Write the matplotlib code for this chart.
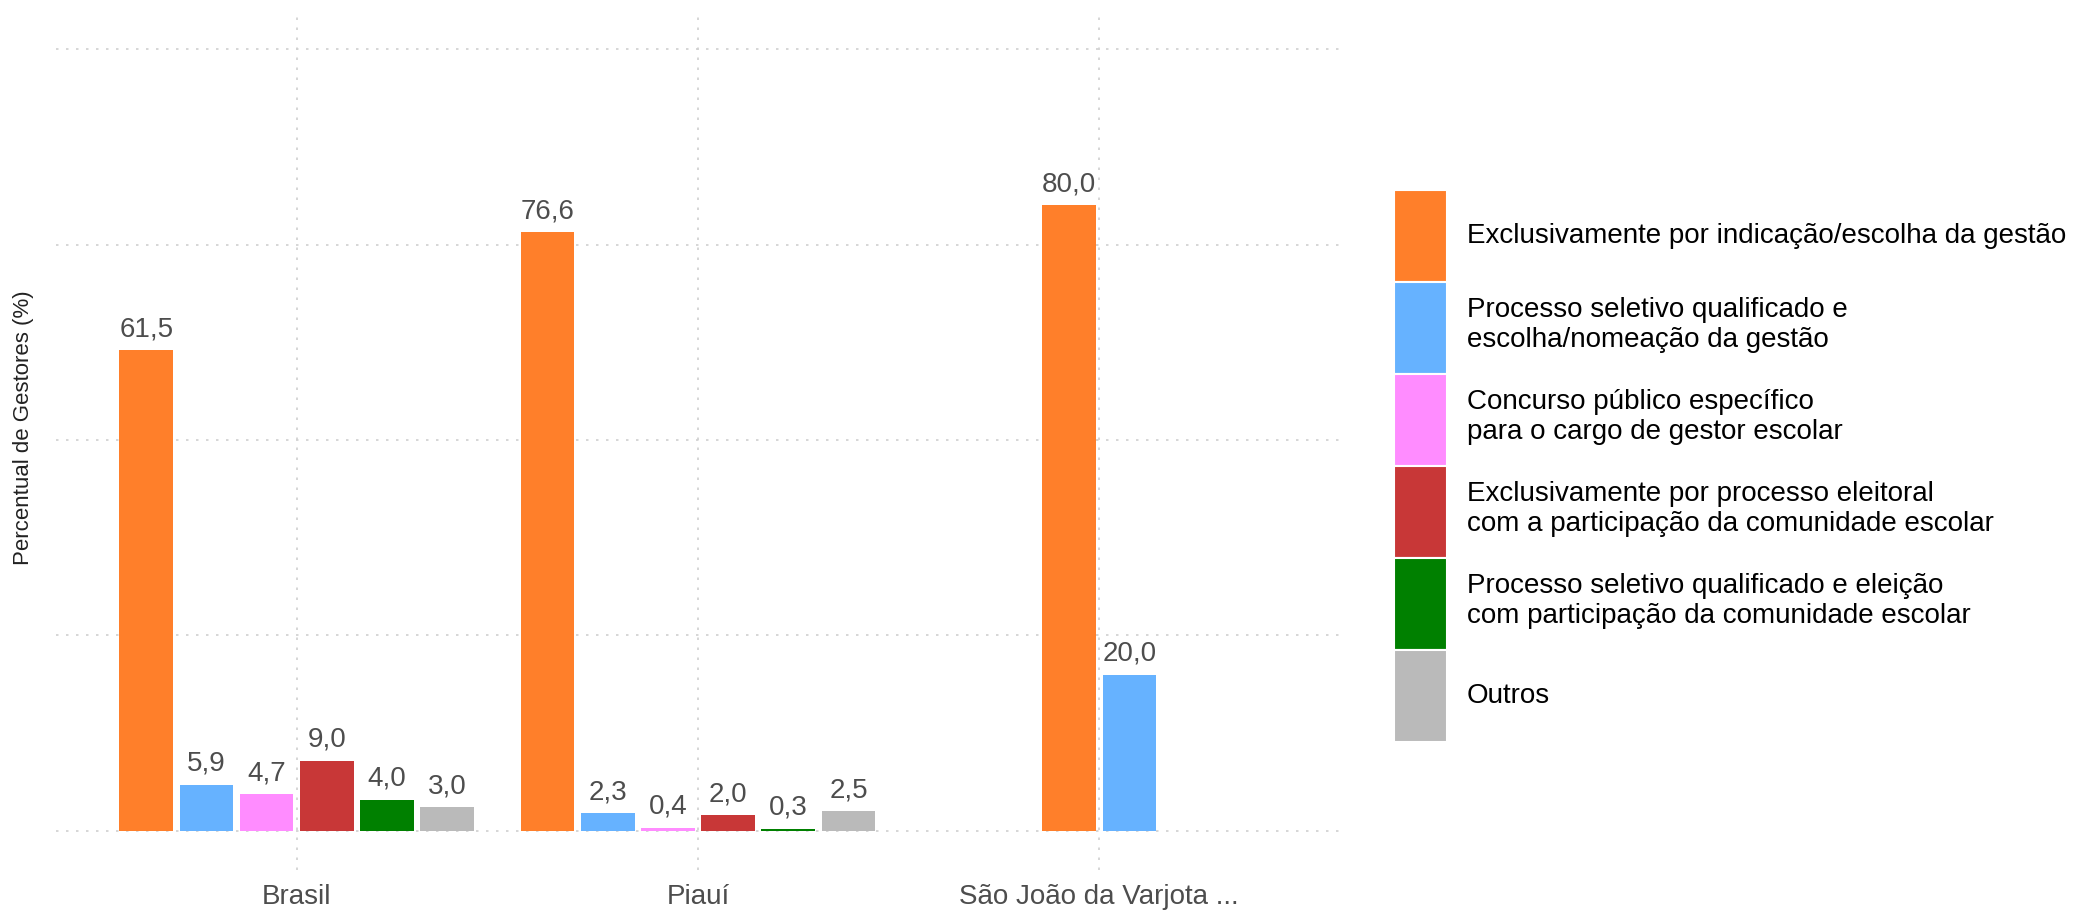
import numpy as np
import matplotlib
matplotlib.use("Agg")
from matplotlib import pyplot as plt
from matplotlib.patches import Patch

plt.rcParams['font.family'] = ['Liberation Sans', 'DejaVu Sans']

# data
regioes = ['Brasil', 'Piauí', 'São João da Varjota ...']
series = [
    'Exclusivamente por indicação/escolha da gestão',
    'Processo seletivo qualificado e\nescolha/nomeação da gestão',
    'Concurso público específico\npara o cargo de gestor escolar',
    'Exclusivamente por processo eleitoral\ncom a participação da comunidade escolar',
    'Processo seletivo qualificado e eleição\ncom participação da comunidade escolar',
    'Outros',
]
cores = ['#FF7F2A', '#66B2FF', '#FF8CFF', '#C83737', '#008000', '#BABABA']

indicacao = [61.5, 76.6, 80.0]
seletivo_nomeacao = [5.9, 2.3, 20.0]
concurso = [4.7, 0.4, None]
eleitoral = [9.0, 2.0, None]
seletivo_eleicao = [4.0, 0.3, None]
outros = [3.0, 2.5, None]

valores = [indicacao, seletivo_nomeacao, concurso, eleitoral, seletivo_eleicao, outros]

fig = plt.figure(figsize=(20.8, 9.11), dpi=100)
ax = fig.add_axes([56 / 2080, 1 - 870 / 911, (1340 - 56) / 2080, 860 / 911])

slot = 0.9 / len(series)
bar_w = slot * 0.89

for i, reg in enumerate(regioes):
    presentes = [k for k in range(len(series)) if valores[k][i] is not None]
    n = len(presentes)
    for j, k in enumerate(presentes):
        x = i + 1 + (j - (n - 1) / 2) * slot
        v = valores[k][i]
        ax.bar(x, v, width=bar_w, color=cores[k], zorder=3)
        ax.annotate(f"{v:.1f}".replace('.', ','), (x, v), xytext=(0, 10),
                    textcoords='offset points', ha='center', va='baseline',
                    fontsize=20, color='#4D4D4D', zorder=4)

ax.set_xlim(0.4, 3.6)
ax.set_ylim(-5, 105)
ax.set_xticks([1, 2, 3])
ax.set_xticklabels(regioes, fontsize=20, color='#4D4D4D')
ax.set_yticks([0, 25, 50, 75, 100])
ax.set_yticklabels([])
ax.tick_params(length=0, pad=10)
ax.grid(True, color='#D0D0D0', linestyle=(0, (1.5, 4.5)), linewidth=1.2, zorder=0)
for s in ax.spines.values():
    s.set_visible(False)

fig.text(24 / 2080, 1 - 428 / 911, 'Percentual de Gestores (%)', rotation=90,
         ha='center', va='center', fontsize=16, color='#222222')

handles = [Patch(facecolor=c, edgecolor='white', linewidth=1.5) for c in cores]
fig.legend(handles, series, loc='upper left',
           bbox_to_anchor=(1394 / 2080, 1 - 190 / 911),
           frameon=False, fontsize=20, handlelength=1.9, handleheight=4.72,
           handletextpad=0.72, labelspacing=0.0, borderpad=0, borderaxespad=0)

fig.savefig('out.png', dpi=100, facecolor='white')
